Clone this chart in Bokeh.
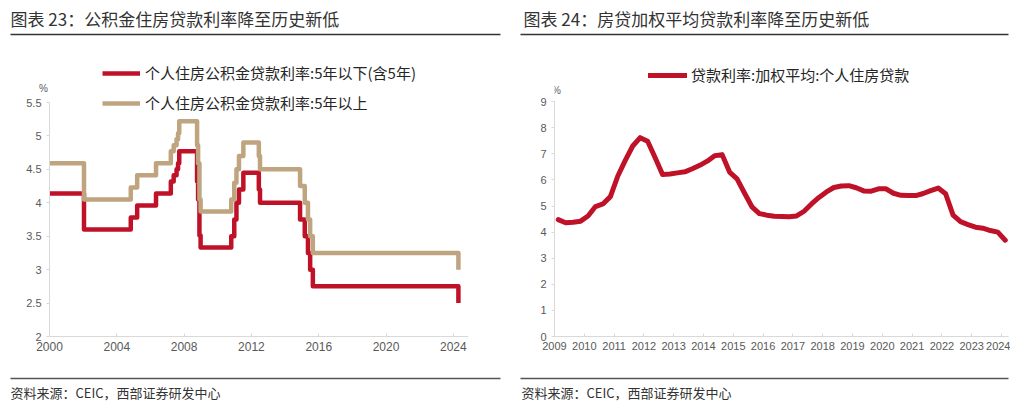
from bokeh.plotting import figure
from bokeh.models import (Legend, LegendItem, Label, BoxAnnotation, FixedTicker,
                          NumeralTickFormatter, Range1d)
from bokeh.layouts import row, column
from bokeh.embed import file_html
from bokeh.resources import INLINE

# ---------------- data: left chart (housing provident fund loan rates, %) ----------------
pf_dates = [2000.0, 2002.05, 2004.83, 2005.21, 2006.33, 2007.21, 2007.38, 2007.55, 2007.64, 2007.71,
            2008.77, 2008.83, 2008.91, 2008.98, 2010.80, 2010.98, 2011.11, 2011.26, 2011.52,
            2012.44, 2012.51, 2014.89, 2015.17, 2015.36, 2015.49, 2015.65, 2024.30]
pf_short = [4.14, 3.60, 3.78, 3.96, 4.14, 4.32, 4.41, 4.50, 4.59, 4.77,
            4.32, 4.05, 3.51, 3.33, 3.50, 3.75, 4.00, 4.20, 4.45,
            4.20, 4.00, 3.75, 3.50, 3.25, 3.00, 2.75, 2.50]
pf_long = [4.59, 4.05, 4.23, 4.41, 4.59, 4.77, 4.86, 4.95, 5.04, 5.22,
           4.86, 4.59, 4.05, 3.87, 4.05, 4.30, 4.50, 4.70, 4.90,
           4.70, 4.50, 4.25, 4.00, 3.75, 3.50, 3.25, 3.00]
left_x_ticks = [2000, 2004, 2008, 2012, 2016, 2020, 2024]
left_y_ticks = [2, 2.5, 3, 3.5, 4, 4.5, 5, 5.5]
left_names = ["个人住房公积金贷款利率:5年以下(含5年)", "个人住房公积金贷款利率:5年以上"]

# ---------------- data: right chart (weighted avg personal housing loan rate, %) ----------------
quarters = [f"{y}Q{q}" for y in range(2009, 2025) for q in (1, 2, 3, 4)][:61]
mortgage_rate = [4.48, 4.36, 4.38, 4.42, 4.62, 4.98, 5.08, 5.36, 6.15, 6.75,
                 7.30, 7.62, 7.48, 6.86, 6.21, 6.23, 6.27, 6.31, 6.43, 6.56,
                 6.72, 6.93, 6.97, 6.30, 6.04, 5.50, 4.97, 4.71, 4.65, 4.61,
                 4.60, 4.59, 4.62, 4.80, 5.08, 5.33, 5.54, 5.71, 5.77, 5.78,
                 5.70, 5.58, 5.57, 5.66, 5.66, 5.49, 5.41, 5.40, 5.40, 5.48,
                 5.59, 5.69, 5.47, 4.65, 4.40, 4.29, 4.19, 4.15, 4.06, 4.00,
                 3.69]
right_x_ticks = list(range(2009, 2025))
right_y_ticks = [0, 1, 2, 3, 4, 5, 6, 7, 8, 9]
right_name = "贷款利率:加权平均:个人住房贷款"

titles = ["图表 23：公积金住房贷款利率降至历史新低", "图表 24：房贷加权平均贷款利率降至历史新低"]
source_text = "资料来源：CEIC，西部证券研发中心"
unit_text = "%"

RED = "#BF1229"
TAN = "#BFA480"
AXIS = "#D9D9D9"
TICK_TXT = "#595959"
CJK = "Noto Sans CJK SC"
LAT = "Liberation Sans"

W1, W2 = 513, 497
TOP_H, CHART_H, FOOT_H = 38, 330, 35


def q_pos(qs):
    return [int(s[:4]) + (int(s[5]) - 1) / 4 + 0.125 for s in qs]


def style(p, xticks, yticks, xbounds, ybounds, xfs, yfs):
    p.xgrid.visible = False
    p.ygrid.visible = False
    p.outline_line_color = None
    p.background_fill_color = "white"
    p.border_fill_color = "white"
    for ax in (p.xaxis[0], p.yaxis[0]):
        ax.axis_line_color = AXIS
        ax.major_tick_line_color = AXIS
        ax.minor_tick_line_color = None
        ax.major_label_text_color = TICK_TXT
        ax.major_label_text_font = LAT
    p.xaxis.ticker = FixedTicker(ticks=xticks)
    p.xaxis.major_label_overrides = {t: str(t) for t in xticks}
    p.xaxis.major_label_text_font_size = xfs
    p.xaxis.major_tick_in = 3
    p.xaxis.major_tick_out = 0
    p.xaxis.major_label_standoff = 5
    p.xaxis.bounds = xbounds
    p.yaxis.ticker = FixedTicker(ticks=yticks)
    p.yaxis.formatter = NumeralTickFormatter(format="0.[0]")
    p.yaxis.bounds = ybounds
    p.yaxis.major_label_text_font_size = yfs
    p.yaxis.major_tick_in = 0
    p.yaxis.major_tick_out = 3
    p.yaxis.major_label_standoff = 5


def band(width, height):
    f = figure(width=width, height=height, x_range=Range1d(0, width), y_range=Range1d(0, height),
               output_backend="svg", toolbar_location=None, frame_align=False,
               x_axis_location=None, y_axis_location=None, min_border=0)
    f.xgrid.visible = False
    f.ygrid.visible = False
    f.outline_line_color = None
    f.background_fill_color = "white"
    f.border_fill_color = "white"
    return f


def put_text(p, x, y, text, size, color, font=CJK, align="left", units="data"):
    p.add_layout(Label(x=x, y=y, x_units=units, y_units=units, text=text,
                       text_font=font, text_font_size=size, text_color=color,
                       text_baseline="middle", text_align=align))


def hrule(p, x0, x1, y, thick, color):
    p.add_layout(BoxAnnotation(left=x0, right=x1, bottom=y - thick / 2, top=y + thick / 2,
                               fill_color=color, fill_alpha=1, line_color=None))


# ---------------- left column ----------------
t1 = band(W1, TOP_H)
put_text(t1, 10, 20, titles[0], "17px", "#333333")
hrule(t1, 10, 500, 4, 1.5, "#333333")

# frame spans x 24..468 and y 50..368 (page px); axes are pinned at x=2000 and y=2
sx1 = 419 / 24.9          # px per year
sy1 = 234 / 3.5           # px per percentage point
p1 = figure(width=W1, height=CHART_H,
            x_range=Range1d(2000 - 25 / sx1, 2024.9),
            y_range=Range1d(2 - 32 / sy1, 2 + 286 / sy1),
            output_backend="svg", toolbar_location=None, frame_align=False,
            min_border_left=24, min_border_right=45, min_border_top=12, min_border_bottom=0)
style(p1, left_x_ticks, left_y_ticks, (2000, 2024.9), (2, 5.5), "12px", "11px")
p1.yaxis.fixed_location = 2000
p1.xaxis.fixed_location = 2
r_short = p1.step(pf_dates, pf_short, mode="after", line_color=RED, line_width=4.5, line_join="round")
r_long = p1.step(pf_dates, pf_long, mode="after", line_color=TAN, line_width=4.5, line_join="round")
leg1 = Legend(items=[LegendItem(label=left_names[0], renderers=[r_short]),
                     LegendItem(label=left_names[1], renderers=[r_long])],
              location=(78, 255), orientation="vertical", glyph_width=38, glyph_height=20,
              label_height=20, spacing=9, padding=0, margin=0, border_line_color=None,
              background_fill_alpha=0, label_text_font=CJK, label_text_font_size="15px",
              label_text_color="#262626", label_standoff=5)
p1.add_layout(leg1)
put_text(p1, 19, 280, unit_text, "10px", TICK_TXT, font=LAT, align="center", units="screen")

f1 = band(W1, FOOT_H)
hrule(f1, 10, 500, 25, 1.5, "#555555")
put_text(f1, 10, 11, source_text, "13px", "#333333")

# ---------------- right column ----------------
t2 = band(W2, TOP_H)
put_text(t2, 10, 20, titles[1], "17px", "#333333")
hrule(t2, 7, 495, 4, 1.5, "#333333")

p2 = figure(width=W2, height=CHART_H, x_range=Range1d(2009, 2009 + 454 / 29.8),
            y_range=Range1d(0, 10.96), output_backend="svg", toolbar_location=None,
            frame_align=False,
            min_border_left=41, min_border_right=2, min_border_top=12, min_border_bottom=32)
style(p2, right_x_ticks, right_y_ticks, (2009, 2009 + 454 / 29.8), (0, 9), "11px", "11px")
r_m = p2.line(q_pos(quarters), mortgage_rate, line_color=RED, line_width=5,
              line_join="round", line_cap="round")
leg2 = Legend(items=[LegendItem(label=right_name, renderers=[r_m])],
              location=(94, 251), orientation="vertical", glyph_width=39, glyph_height=20,
              label_height=20, spacing=0, padding=0, margin=0, border_line_color=None,
              background_fill_alpha=0, label_text_font=CJK, label_text_font_size="15px",
              label_text_color="#262626", label_standoff=4)
p2.add_layout(leg2)
put_text(p2, 2, 246, unit_text, "10px", TICK_TXT, font=LAT, align="center", units="screen")

f2 = band(W2, FOOT_H)
hrule(f2, 7, 495, 25, 1.5, "#555555")
put_text(f2, 8, 11, source_text, "13px", "#333333")

layout = row(column(t1, p1, f1, spacing=0), column(t2, p2, f2, spacing=0), spacing=0)
open("out.html", "w").write(file_html(layout, INLINE))
